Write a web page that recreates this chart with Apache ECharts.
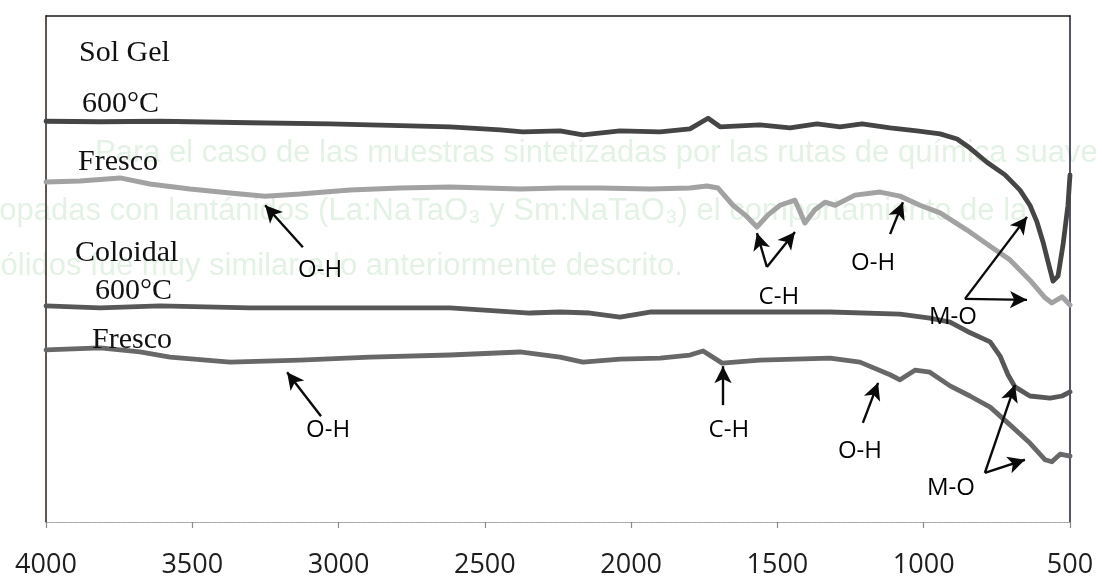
<!DOCTYPE html>
<html><head><meta charset="utf-8">
<script src="https://cdn.jsdelivr.net/npm/echarts@6/dist/echarts.min.js"></script>
<style>html,body{margin:0;padding:0;background:#fff}#c{width:1102px;height:582px}</style>
</head><body><div id="c"></div>
<script>
// ---- data (x = wavenumber cm-1, y = transmittance, arbitrary units, offset traces) ----
const xTicks = [4000, 3500, 3000, 2500, 2000, 1500, 1000, 500];

const solGel600 = [[4000,79.2],[3815,79.1],[3610,79.2],[3303,78.9],[3029,78.7],[2893,78.5],[2619,78.1],[2448,77.5],[2370,77.1],[2243,77.3],[2165,76.5],[2038,77.3],[1901,77.1],[1799,77.7],[1737,79.8],[1696,78.1],[1560,78.5],[1457,77.9],[1365,78.7],[1286,78.1],[1211,78.7],[1115,77.9],[1023,77.3],[944,76.7],[886,75.7],[842,73.9],[784,71.1],[722,68.6],[671,65.6],[637,62.6],[613,59.3],[592,55.3],[575,51.4],[558,47.6],[541,48.6],[524,54.7],[507,62.6],[500,68.6]];

const solGelFresco = [[4000,67.2],[3884,67.4],[3747,68.0],[3645,66.8],[3508,65.8],[3371,65.0],[3251,64.4],[3132,64.8],[2961,65.6],[2790,66.0],[2619,66.2],[2380,65.8],[2243,66.0],[2106,66.0],[1936,65.8],[1799,66.0],[1741,66.4],[1703,66.0],[1652,62.6],[1611,60.7],[1570,58.3],[1532,60.7],[1491,62.6],[1440,63.6],[1406,59.1],[1372,61.7],[1337,63.2],[1303,62.6],[1235,64.6],[1149,65.2],[1081,64.4],[1013,62.6],[944,61.1],[852,57.7],[773,54.5],[705,51.8],[637,47.8],[585,44.3],[562,43.3],[527,44.5],[500,42.9]];

const coloidal600 = [[4000,42.7],[3815,42.3],[3610,42.7],[3303,42.3],[2893,42.3],[2619,42.3],[2346,41.3],[2243,41.5],[2141,41.3],[2038,40.5],[1936,41.5],[1765,41.5],[1560,41.5],[1320,41.5],[1081,41.1],[979,40.3],[910,39.5],[852,37.7],[773,35.6],[739,32.8],[712,29.1],[688,26.7],[637,24.9],[568,24.5],[527,24.9],[500,25.7]];

const coloidalFresco = [[4000,34.0],[3815,34.4],[3679,33.6],[3576,32.6],[3371,31.6],[3132,32.0],[2893,32.6],[2619,33.0],[2380,33.6],[2243,32.6],[2165,31.6],[2038,32.2],[1901,32.4],[1799,33.0],[1754,33.8],[1689,31.4],[1560,32.0],[1320,32.4],[1218,31.6],[1115,29.1],[1081,28.1],[1030,30.0],[979,29.6],[910,26.9],[842,24.9],[773,22.7],[705,19.2],[637,15.6],[585,12.3],[562,11.9],[534,13.4],[500,13.0]];

// band labels: [wavenumber, y, text]
const bandLabels = [[3063,49.8,'O-H'],[1495,44.5,'C-H'],[1173,51.2,'O-H'],[900,40.5,'M-O'],[1666,18.2,'C-H'],[3036,18.2,'O-H'],[1218,14.0,'O-H'],[907,6.7,'M-O']];

// arrows: [fromX, fromY, toX, toY]
const arrows = [[3122,54.3,3251,62.6],[1536,50.4,1570,57.1],[1536,50.4,1440,57.3],[1115,56.9,1071,63.2],[859,44.1,647,60.3],[859,44.1,647,43.9],[1686,23.1,1686,30.8],[3060,20.9,3176,29.6],[1208,19.6,1156,27.5],[791,9.7,688,27.1],[791,9.7,654,12.3]];

const traceNames = ['Sol Gel', '600°C', 'Fresco', 'Coloidal', '600°C', 'Fresco'];

const bleedLines = [
  'Para el caso de las muestras sintetizadas por las rutas de química suave',
  'dopadas con lantánidos (La:NaTaO₃ y Sm:NaTaO₃) el comportamiento de la',
  'sólidos fue muy similar a lo anteriormente descrito.'
];

// ---- layout ----
const nameLayout = [[79,53],[82,104],[78,162],[75,253],[95,291],[92,340]];
const bleedLayout = [[95,153],[-18,211],[-15,266]];

const chart = echarts.init(document.getElementById('c'), null, {renderer:'canvas'});

const lineSeries = (name, data, color, width) => ({
  name, type:'line', data, showSymbol:false, smooth:false, silent:true,
  lineStyle:{color, width, cap:'round', join:'round'}, z:3
});

const graphics = [];
bleedLines.forEach((t,i)=>graphics.push({type:'text', x:bleedLayout[i][0], y:bleedLayout[i][1], z:-10, silent:true,
  style:{text:t, font:'31px "Liberation Sans", Arial, sans-serif', fill:'#e4f2e5', verticalAlign:'middle'}}));
traceNames.forEach((t,i)=>graphics.push({type:'text', x:nameLayout[i][0], y:nameLayout[i][1], z:100, silent:true,
  style:{text:t, font:'30px "Liberation Serif", "Times New Roman", serif', fill:'#111', verticalAlign:'middle'}}));

chart.setOption({
  animation:false,
  backgroundColor:'#ffffff',
  grid:{left:46, right:32, top:16, bottom:60, containLabel:false},
  xAxis:[{
    type:'value', min:500, max:4000, interval:500, inverse:true,
    axisLine:{show:true, onZero:false, lineStyle:{color:'#a0a0a0', width:1.2, type:'dotted'}},
    axisTick:{show:true, length:6, lineStyle:{color:'#8a8a8a', width:1.2}},
    axisLabel:{margin:30, color:'#1e1e1e', fontSize:27, fontFamily:'"Open Sans", sans-serif',
      formatter:v => xTicks.includes(v) ? String(v) : ''},
    splitLine:{show:false}
  },{
    type:'value', position:'top', min:500, max:4000, inverse:true,
    axisLine:{show:true, onZero:false, lineStyle:{color:'#1a1a1a', width:1.5}},
    axisTick:{show:false}, axisLabel:{show:false}, splitLine:{show:false}
  }],
  yAxis:[{
    type:'value', min:0, max:100,
    axisLine:{show:true, onZero:false, lineStyle:{color:'#2a2018', width:1.5}},
    axisTick:{show:false}, axisLabel:{show:false}, splitLine:{show:false}
  },{
    type:'value', position:'right', min:0, max:100,
    axisLine:{show:true, onZero:false, lineStyle:{color:'#1c1c30', width:1.5}},
    axisTick:{show:false}, axisLabel:{show:false}, splitLine:{show:false}
  }],
  series:[
    lineSeries('Sol Gel 600°C', solGel600, '#454545', 4.8),
    lineSeries('Sol Gel Fresco', solGelFresco, '#a2a2a2', 5),
    lineSeries('Coloidal 600°C', coloidal600, '#585858', 4.8),
    lineSeries('Coloidal Fresco', coloidalFresco, '#686868', 4.8),
    {
      name:'arrows', type:'line', data:[], silent:true,
      markLine:{
        silent:true, symbol:['none','arrow'], symbolSize:[13,17], animation:false,
        label:{show:false}, emphasis:{disabled:true},
        lineStyle:{color:'#0a0a0a', width:2.4, type:'solid', opacity:1},
        data: arrows.map(a => [{coord:[a[0],a[1]]},{coord:[a[2],a[3]]}])
      }, z:5
    },
    {
      name:'bands', type:'scatter', symbolSize:0, silent:true, z:6,
      itemStyle:{opacity:1},
      data: bandLabels.map(b => ({value:[b[0],b[1]], name:b[2]})),
      label:{show:true, position:'inside', formatter:p => p.name, color:'#000', opacity:1,
        fontSize:24, fontFamily:'"Open Sans", sans-serif'}
    }
  ],
  graphic: graphics
});
</script>
</body></html>
